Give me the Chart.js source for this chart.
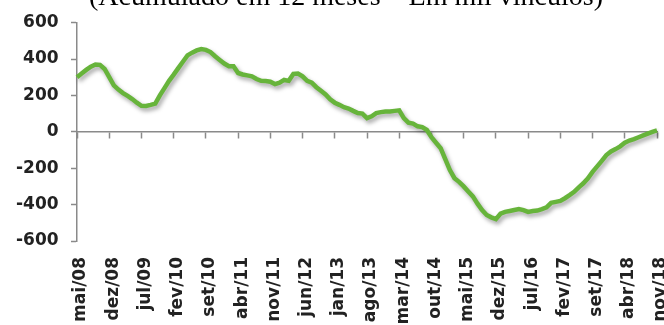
<!DOCTYPE html>
<html>
<head>
<meta charset="utf-8">
<script src="https://cdn.jsdelivr.net/npm/chart.js@4"></script>
<style>
  html, body { margin: 0; padding: 0; overflow: hidden; background: #fff; width: 664px; height: 325px; }
  #wrap { position: absolute; left: 0; top: -30px; width: 700px; height: 400px; }
</style>
</head>
<body>
<div id="wrap"><canvas id="myChart"></canvas></div>
<script>
// saldo de vinculos acumulado em 12 meses, mensal de mai/08 a nov/18
var monthNames = ["jan", "fev", "mar", "abr", "mai", "jun", "jul", "ago", "set", "out", "nov", "dez"];
var firstMonth = 4, firstYear = 2008;
var saldo12m = [
  300, 320, 340, 358, 370, 368, 345, 300, 255, 232, 213, 197, 180, 160, 143, 142, 148, 155, 200, 240,
  280, 314, 350, 385, 420, 435, 447, 455, 450, 438, 415, 395, 375, 360, 360, 323, 315, 310, 305, 290,
  280, 279, 275, 262, 270, 285, 280, 318, 320, 305, 280, 270, 245, 225, 205, 178, 160, 148, 135, 128,
  115, 103, 100, 75, 85, 103, 108, 112, 112, 115, 118, 75, 50, 45, 30, 26, 10, -30, -60, -90,
  -150, -210, -255, -275, -300, -328, -355, -395, -430, -457, -470, -480, -450, -440, -435, -430, -425, -430, -440, -435,
  -433, -425, -415, -390, -385, -380, -365, -348, -330, -305, -283, -255, -220, -190, -160, -128, -108, -95, -80, -60,
  -48, -40, -30, -20, -10, 0, 8
];
var labelEvery = 7;
var yTicks = { min: -600, max: 600, step: 200 };

var labels = [];
for (var i = 0; i < saldo12m.length; i++) {
  var m = (firstMonth + i) % 12;
  var y = firstYear + Math.floor((firstMonth + i) / 12);
  labels.push(monthNames[m] + "/" + String(y).slice(2));
}

var axisGray = "#8a8a8a";
var tickFont = { family: "DejaVu Sans", size: 17, weight: "bold" };

var shadowPlugin = {
  id: "lineShadow",
  beforeDatasetsDraw: function (chart) {
    var c = chart.ctx;
    c.save();
    c.shadowColor = "rgba(0,0,0,0.35)";
    c.shadowBlur = 4;
    c.shadowOffsetX = 2;
    c.shadowOffsetY = 3;
  },
  afterDatasetsDraw: function (chart) {
    chart.ctx.restore();
  }
};

var canvas = document.getElementById('myChart').getContext('2d');
var chart = new Chart(canvas, {
  type: "line",
  data: {
    labels: labels,
    datasets: [{
      data: saldo12m,
      borderColor: "#67b43b",
      borderWidth: 4.5,
      pointRadius: 0,
      tension: 0,
      fill: false,
      xAxisID: "x",
      yAxisID: "y"
    }]
  },
  plugins: [shadowPlugin],
  options: {
    responsive: true,
    maintainAspectRatio: false,
    animation: false,
    layout: { padding: { left: 35, right: 43, top: 0, bottom: 0 } },
    plugins: {
      legend: { display: false },
      tooltip: { enabled: false },
      title: {
        display: true,
        text: "(Acumulado em 12 meses \u2013 Em mil v\u00ednculos)",
        color: "#000",
        font: { family: "Liberation Serif", size: 28, weight: "normal" },
        padding: { top: 11, bottom: 8 }
      }
    },
    scales: {
      x: {
        type: "category",
        position: { y: 0 },
        offset: false,
        border: { display: true, color: axisGray, width: 1.5 },
        grid: {
          drawOnChartArea: false,
          drawTicks: true,
          tickLength: 6,
          tickWidth: 1.5,
          tickColor: function (ctx) { return ctx.index % labelEvery === 0 ? axisGray : "rgba(0,0,0,0)"; }
        },
        ticks: { display: false }
      },
      x2: {
        type: "category",
        position: "bottom",
        offset: false,
        border: { display: false },
        grid: { display: false, drawTicks: false },
        ticks: {
          autoSkip: false,
          maxRotation: 90,
          minRotation: 90,
          padding: 16,
          labelOffset: 4,
          color: "#222",
          font: tickFont,
          callback: function (value, index) {
            return index % labelEvery === 0 ? this.getLabelForValue(value) : "";
          }
        },
        afterFit: function (scale) { scale.height = 129; }
      },
      y: {
        position: "left",
        min: yTicks.min,
        max: yTicks.max,
        border: { display: true, color: axisGray, width: 1.5 },
        grid: { drawOnChartArea: false, tickLength: 6, tickColor: axisGray, tickWidth: 1.5 },
        ticks: {
          stepSize: yTicks.step,
          mirror: true,
          crossAlign: "far",
          padding: -61,
          color: "#222",
          font: tickFont
        },
        afterFit: function (scale) { scale.width = 42; }
      }
    }
  }
});
</script>
</body>
</html>
